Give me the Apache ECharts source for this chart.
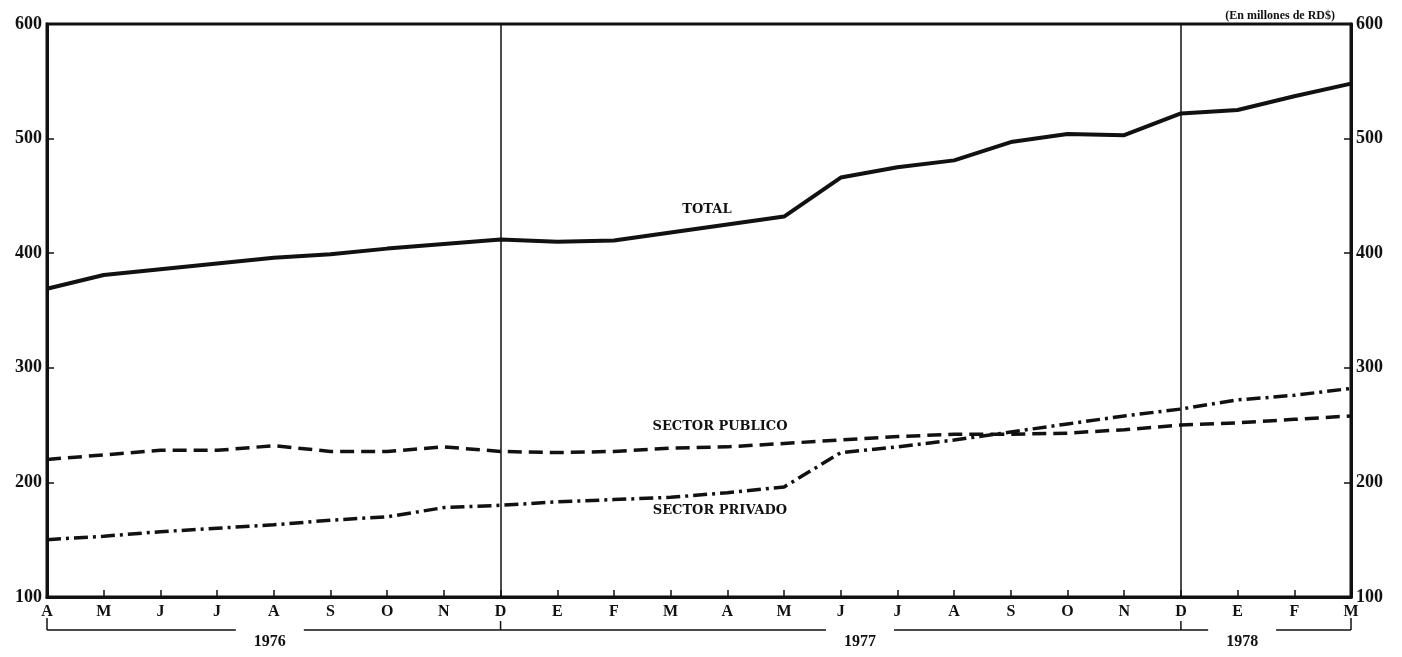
<!DOCTYPE html>
<html>
<head>
<meta charset="utf-8">
<script src="https://cdn.jsdelivr.net/npm/echarts@6/dist/echarts.min.js"></script>
<style>
  html, body { margin: 0; padding: 0; background: #fff; }
  #chart { width: 1402px; height: 657px; }
</style>
</head>
<body>
<div id="chart"></div>
<script>
// Apr 1976 .. Mar 1978, one point per month
const monthLabels = ['A','M','J','J','A','S','O','N','D','E','F','M','A','M','J','J','A','S','O','N','D','E','F','M']
const total   = [369, 381, 386, 391, 396, 399, 404, 408, 412, 410, 411, 418, 425, 432, 466, 475, 481, 497, 504, 503, 522, 525, 537, 548]
const publico = [220, 224, 228, 228, 232, 227, 227, 231, 227, 226, 227, 230, 231, 234, 237, 240, 242, 242, 243, 246, 250, 252, 255, 258]
const privado = [150, 153, 157, 160, 163, 167, 170, 178, 180, 183, 185, 187, 191, 196, 226, 231, 237, 244, 251, 258, 264, 272, 276, 282]
const yearLabels = ['1976', '1977', '1978']
const yearCenters = [3.93, 14.34, 21.08]   // position of each year label, in months
const yearBreaks = [8, 20]                 // December ticks

const serif = '"Liberation Serif", "DejaVu Serif", serif'
const labelFont = '"DejaVu Serif", "Liberation Serif", serif'

const chart = echarts.init(document.getElementById('chart'))

const toPairs = arr => arr.map((v, i) => [i, v])

const lineLabel = (text, x, y) => ({
  coord: [x, y],
  symbol: 'circle',
  symbolSize: 0,
  label: {
    show: true,
    position: 'inside',
    formatter: text,
    color: '#111',
    fontFamily: labelFont,
    fontWeight: 'bold',
    fontSize: 13
  }
})

const option = {
  animation: false,
  backgroundColor: '#fff',
  title: {
    text: '(En millones de RD$)',
    right: 62,
    top: 5,
    textStyle: { fontFamily: serif, fontWeight: 'bold', fontSize: 12, color: '#111' }
  },
  grid: {
    left: 47,
    right: 51,
    top: 24,
    bottom: 60,
    show: true,
    borderColor: '#111',
    borderWidth: 3
  },
  xAxis: {
    type: 'value',
    min: 0,
    max: 23,
    interval: 1,
    splitLine: { show: false },
    axisLine: { lineStyle: { color: '#111', width: 3 } },
    axisTick: { inside: true, length: 7, lineStyle: { color: '#111', width: 1.5 } },
    axisLabel: {
      margin: 7,
      color: '#111',
      fontFamily: serif,
      fontWeight: 'bold',
      fontSize: 16,
      formatter: v => monthLabels[v] || ''
    }
  },
  yAxis: [
    {
      type: 'value',
      min: 100,
      max: 600,
      interval: 100,
      position: 'left',
      splitLine: { show: false },
      axisLine: { show: true, lineStyle: { color: '#111', width: 3 } },
      axisTick: { show: true, inside: true, length: 7, lineStyle: { color: '#111', width: 1.5 } },
      axisLabel: { margin: 5, color: '#111', fontFamily: serif, fontWeight: 'bold', fontSize: 18 }
    },
    {
      type: 'value',
      min: 100,
      max: 600,
      interval: 100,
      position: 'right',
      splitLine: { show: false },
      axisLine: { show: true, lineStyle: { color: '#111', width: 3 } },
      axisTick: { show: true, inside: true, length: 7, lineStyle: { color: '#111', width: 1.5 } },
      axisLabel: { margin: 5, color: '#111', fontFamily: serif, fontWeight: 'bold', fontSize: 18 }
    }
  ],
  series: [
    {
      name: 'TOTAL',
      type: 'line',
      data: toPairs(total),
      symbol: 'none',
      lineStyle: { color: '#111', width: 4 },
      markLine: {
        silent: true,
        symbol: 'none',
        label: { show: false },
        lineStyle: { color: '#111', width: 1.5, type: 'solid' },
        data: yearBreaks.map(x => ({ xAxis: x }))
      },
      markPoint: { data: [lineLabel('TOTAL', 11.64, 438)] }
    },
    {
      name: 'SECTOR PUBLICO',
      type: 'line',
      data: toPairs(publico),
      symbol: 'none',
      lineStyle: { color: '#111', width: 3.5, type: [14, 7] },
      markPoint: { data: [lineLabel('SECTOR PUBLICO', 11.87, 249)] }
    },
    {
      name: 'SECTOR PRIVADO',
      type: 'line',
      data: toPairs(privado),
      symbol: 'none',
      lineStyle: { color: '#111', width: 3.5, type: [14, 5, 3, 5] },
      markPoint: { data: [lineLabel('SECTOR PRIVADO', 11.87, 175)] }
    }
  ]
}

chart.setOption(option)

// year brackets under the month axis
const px = i => chart.convertToPixel({ gridIndex: 0 }, [i, 100])
const baseY = px(0)[1]
const lineY = baseY + 33
const gap = 34
const seg = (x1, y1, x2, y2) => ({
  type: 'line',
  shape: { x1, y1, x2, y2 },
  style: { stroke: '#111', lineWidth: 1.5 }
})
const graphics = []
const xStart = px(0)[0]
const xEnd = px(monthLabels.length - 1)[0]
const centers = yearCenters.map(c => px(c)[0])
graphics.push(seg(xStart, lineY - 12, xStart, lineY))
graphics.push(seg(xEnd, lineY - 12, xEnd, lineY))
graphics.push(seg(xStart, lineY, centers[0] - gap, lineY))
for (let k = 0; k < centers.length - 1; k++) {
  graphics.push(seg(centers[k] + gap, lineY, centers[k + 1] - gap, lineY))
}
graphics.push(seg(centers[centers.length - 1] + gap, lineY, xEnd, lineY))
yearBreaks.forEach(b => {
  const x = px(b)[0]
  graphics.push(seg(x, lineY - 9, x, lineY))
})
yearLabels.forEach((t, k) => {
  graphics.push({
    type: 'text',
    x: centers[k],
    y: lineY + 12,
    style: {
      text: t,
      align: 'center',
      verticalAlign: 'middle',
      fill: '#111',
      font: 'bold 16px ' + serif
    }
  })
})
chart.setOption({ graphic: graphics })
</script>
</body>
</html>
